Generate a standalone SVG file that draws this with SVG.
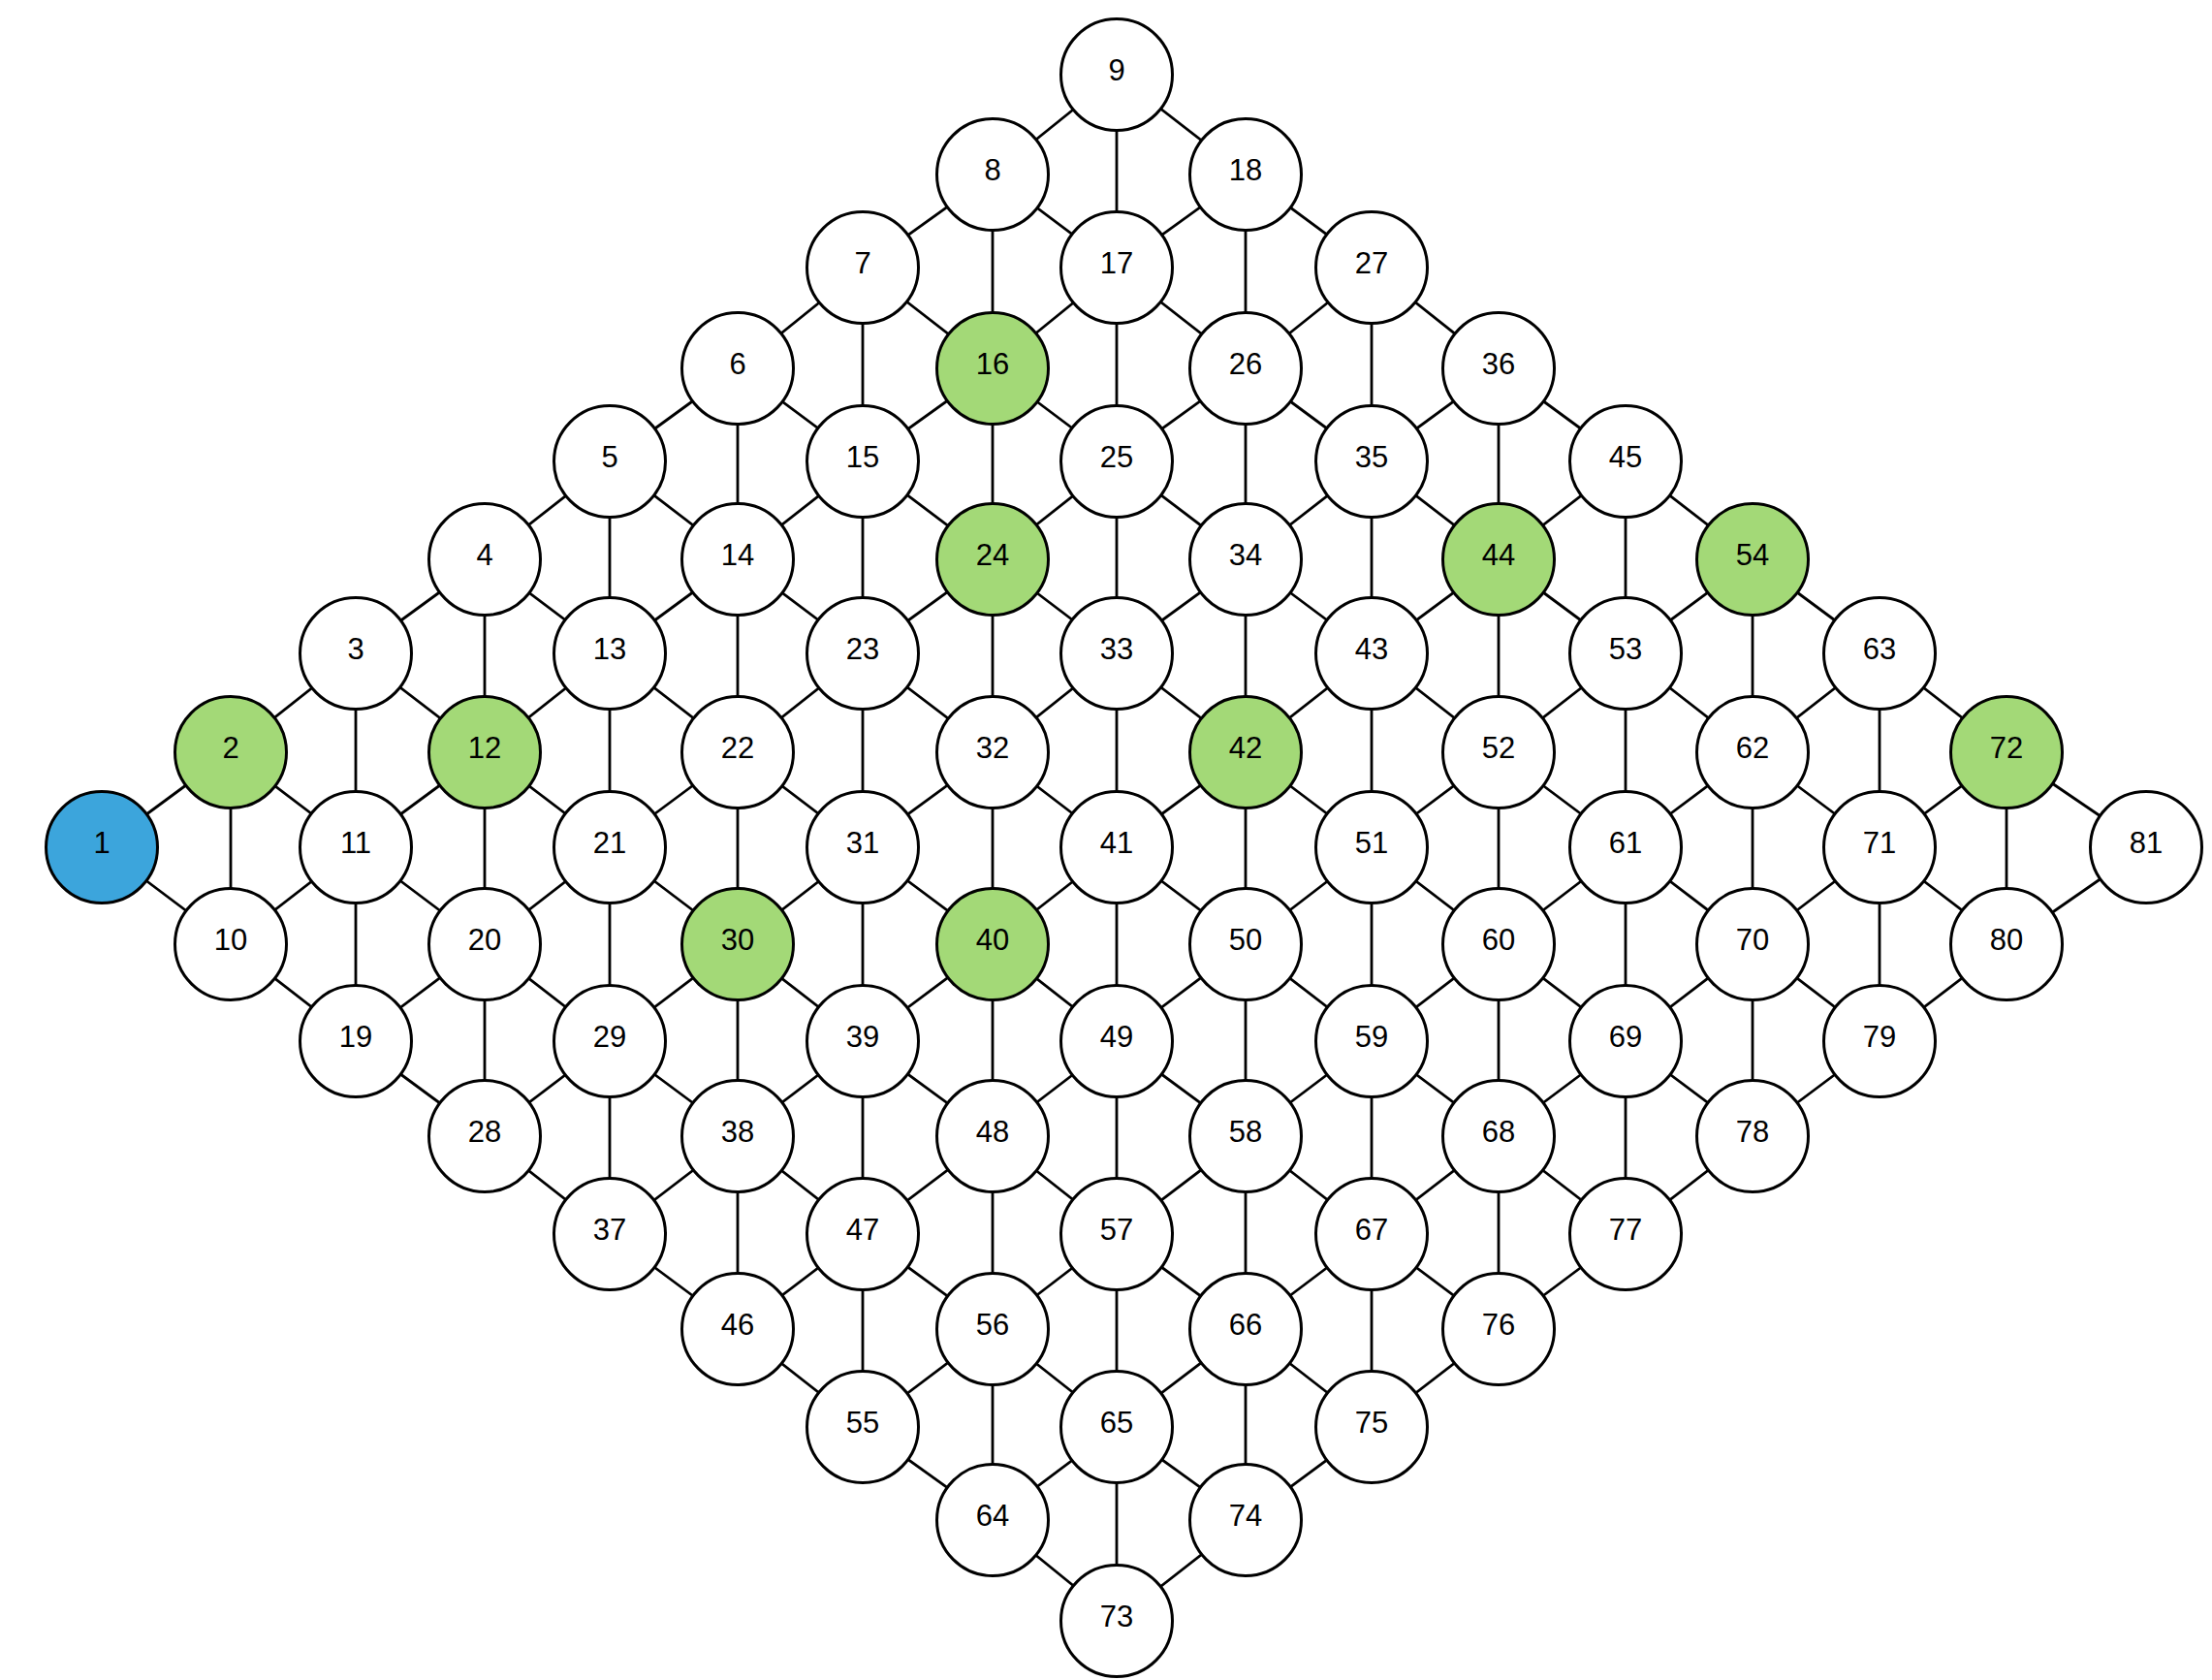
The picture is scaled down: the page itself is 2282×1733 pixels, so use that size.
<svg xmlns="http://www.w3.org/2000/svg" width="2282" height="1733" viewBox="0 0 2282 1733">
<style>
.e{stroke:#000;stroke-width:2.8;fill:none}
.n circle{stroke:#000;stroke-width:3;fill:#fff}
.n.g circle{fill:#A3D977}
.n.b circle{fill:#3CA5DC}
.n text{font-family:"Liberation Sans",Arial,sans-serif;font-size:31px;text-anchor:middle;fill:#000}
</style>
<rect width="2282" height="1733" fill="#fff"/>
<g id="connectors" class="e">
<line x1="105" y1="874" x2="238" y2="776"/><line x1="105" y1="874" x2="238" y2="974"/>
<line x1="238" y1="776" x2="367" y2="674"/><line x1="238" y1="776" x2="367" y2="874"/><line x1="238" y1="776" x2="238" y2="974"/>
<line x1="367" y1="674" x2="500" y2="577"/><line x1="367" y1="674" x2="500" y2="776"/><line x1="367" y1="674" x2="367" y2="874"/>
<line x1="500" y1="577" x2="629" y2="476"/><line x1="500" y1="577" x2="629" y2="674"/><line x1="500" y1="577" x2="500" y2="776"/>
<line x1="629" y1="476" x2="761" y2="380"/><line x1="629" y1="476" x2="761" y2="577"/><line x1="629" y1="476" x2="629" y2="674"/>
<line x1="761" y1="380" x2="890" y2="276"/><line x1="761" y1="380" x2="890" y2="476"/><line x1="761" y1="380" x2="761" y2="577"/>
<line x1="890" y1="276" x2="1024" y2="180"/><line x1="890" y1="276" x2="1024" y2="380"/><line x1="890" y1="276" x2="890" y2="476"/>
<line x1="1024" y1="180" x2="1152" y2="77"/><line x1="1024" y1="180" x2="1152" y2="276"/><line x1="1024" y1="180" x2="1024" y2="380"/>
<line x1="1152" y1="77" x2="1285" y2="180"/><line x1="1152" y1="77" x2="1152" y2="276"/>

<line x1="238" y1="974" x2="367" y2="874"/><line x1="238" y1="974" x2="367" y2="1074"/>
<line x1="367" y1="874" x2="500" y2="776"/><line x1="367" y1="874" x2="500" y2="974"/><line x1="367" y1="874" x2="367" y2="1074"/>
<line x1="500" y1="776" x2="629" y2="674"/><line x1="500" y1="776" x2="629" y2="874"/><line x1="500" y1="776" x2="500" y2="974"/>
<line x1="629" y1="674" x2="761" y2="577"/><line x1="629" y1="674" x2="761" y2="776"/><line x1="629" y1="674" x2="629" y2="874"/>
<line x1="761" y1="577" x2="890" y2="476"/><line x1="761" y1="577" x2="890" y2="674"/><line x1="761" y1="577" x2="761" y2="776"/>
<line x1="890" y1="476" x2="1024" y2="380"/><line x1="890" y1="476" x2="1024" y2="577"/><line x1="890" y1="476" x2="890" y2="674"/>
<line x1="1024" y1="380" x2="1152" y2="276"/><line x1="1024" y1="380" x2="1152" y2="476"/><line x1="1024" y1="380" x2="1024" y2="577"/>
<line x1="1152" y1="276" x2="1285" y2="180"/><line x1="1152" y1="276" x2="1285" y2="380"/><line x1="1152" y1="276" x2="1152" y2="476"/>
<line x1="1285" y1="180" x2="1415" y2="276"/><line x1="1285" y1="180" x2="1285" y2="380"/>

<line x1="367" y1="1074" x2="500" y2="974"/><line x1="367" y1="1074" x2="500" y2="1172"/>
<line x1="500" y1="974" x2="629" y2="874"/><line x1="500" y1="974" x2="629" y2="1074"/><line x1="500" y1="974" x2="500" y2="1172"/>
<line x1="629" y1="874" x2="761" y2="776"/><line x1="629" y1="874" x2="761" y2="974"/><line x1="629" y1="874" x2="629" y2="1074"/>
<line x1="761" y1="776" x2="890" y2="674"/><line x1="761" y1="776" x2="890" y2="874"/><line x1="761" y1="776" x2="761" y2="974"/>
<line x1="890" y1="674" x2="1024" y2="577"/><line x1="890" y1="674" x2="1024" y2="776"/><line x1="890" y1="674" x2="890" y2="874"/>
<line x1="1024" y1="577" x2="1152" y2="476"/><line x1="1024" y1="577" x2="1152" y2="674"/><line x1="1024" y1="577" x2="1024" y2="776"/>
<line x1="1152" y1="476" x2="1285" y2="380"/><line x1="1152" y1="476" x2="1285" y2="577"/><line x1="1152" y1="476" x2="1152" y2="674"/>
<line x1="1285" y1="380" x2="1415" y2="276"/><line x1="1285" y1="380" x2="1415" y2="476"/><line x1="1285" y1="380" x2="1285" y2="577"/>
<line x1="1415" y1="276" x2="1546" y2="380"/><line x1="1415" y1="276" x2="1415" y2="476"/>

<line x1="500" y1="1172" x2="629" y2="1074"/><line x1="500" y1="1172" x2="629" y2="1273"/>
<line x1="629" y1="1074" x2="761" y2="974"/><line x1="629" y1="1074" x2="761" y2="1172"/><line x1="629" y1="1074" x2="629" y2="1273"/>
<line x1="761" y1="974" x2="890" y2="874"/><line x1="761" y1="974" x2="890" y2="1074"/><line x1="761" y1="974" x2="761" y2="1172"/>
<line x1="890" y1="874" x2="1024" y2="776"/><line x1="890" y1="874" x2="1024" y2="974"/><line x1="890" y1="874" x2="890" y2="1074"/>
<line x1="1024" y1="776" x2="1152" y2="674"/><line x1="1024" y1="776" x2="1152" y2="874"/><line x1="1024" y1="776" x2="1024" y2="974"/>
<line x1="1152" y1="674" x2="1285" y2="577"/><line x1="1152" y1="674" x2="1285" y2="776"/><line x1="1152" y1="674" x2="1152" y2="874"/>
<line x1="1285" y1="577" x2="1415" y2="476"/><line x1="1285" y1="577" x2="1415" y2="674"/><line x1="1285" y1="577" x2="1285" y2="776"/>
<line x1="1415" y1="476" x2="1546" y2="380"/><line x1="1415" y1="476" x2="1546" y2="577"/><line x1="1415" y1="476" x2="1415" y2="674"/>
<line x1="1546" y1="380" x2="1677" y2="476"/><line x1="1546" y1="380" x2="1546" y2="577"/>

<line x1="629" y1="1273" x2="761" y2="1172"/><line x1="629" y1="1273" x2="761" y2="1371"/>
<line x1="761" y1="1172" x2="890" y2="1074"/><line x1="761" y1="1172" x2="890" y2="1273"/><line x1="761" y1="1172" x2="761" y2="1371"/>
<line x1="890" y1="1074" x2="1024" y2="974"/><line x1="890" y1="1074" x2="1024" y2="1172"/><line x1="890" y1="1074" x2="890" y2="1273"/>
<line x1="1024" y1="974" x2="1152" y2="874"/><line x1="1024" y1="974" x2="1152" y2="1074"/><line x1="1024" y1="974" x2="1024" y2="1172"/>
<line x1="1152" y1="874" x2="1285" y2="776"/><line x1="1152" y1="874" x2="1285" y2="974"/><line x1="1152" y1="874" x2="1152" y2="1074"/>
<line x1="1285" y1="776" x2="1415" y2="674"/><line x1="1285" y1="776" x2="1415" y2="874"/><line x1="1285" y1="776" x2="1285" y2="974"/>
<line x1="1415" y1="674" x2="1546" y2="577"/><line x1="1415" y1="674" x2="1546" y2="776"/><line x1="1415" y1="674" x2="1415" y2="874"/>
<line x1="1546" y1="577" x2="1677" y2="476"/><line x1="1546" y1="577" x2="1677" y2="674"/><line x1="1546" y1="577" x2="1546" y2="776"/>
<line x1="1677" y1="476" x2="1808" y2="577"/><line x1="1677" y1="476" x2="1677" y2="674"/>

<line x1="761" y1="1371" x2="890" y2="1273"/><line x1="761" y1="1371" x2="890" y2="1472"/>
<line x1="890" y1="1273" x2="1024" y2="1172"/><line x1="890" y1="1273" x2="1024" y2="1371"/><line x1="890" y1="1273" x2="890" y2="1472"/>
<line x1="1024" y1="1172" x2="1152" y2="1074"/><line x1="1024" y1="1172" x2="1152" y2="1273"/><line x1="1024" y1="1172" x2="1024" y2="1371"/>
<line x1="1152" y1="1074" x2="1285" y2="974"/><line x1="1152" y1="1074" x2="1285" y2="1172"/><line x1="1152" y1="1074" x2="1152" y2="1273"/>
<line x1="1285" y1="974" x2="1415" y2="874"/><line x1="1285" y1="974" x2="1415" y2="1074"/><line x1="1285" y1="974" x2="1285" y2="1172"/>
<line x1="1415" y1="874" x2="1546" y2="776"/><line x1="1415" y1="874" x2="1546" y2="974"/><line x1="1415" y1="874" x2="1415" y2="1074"/>
<line x1="1546" y1="776" x2="1677" y2="674"/><line x1="1546" y1="776" x2="1677" y2="874"/><line x1="1546" y1="776" x2="1546" y2="974"/>
<line x1="1677" y1="674" x2="1808" y2="577"/><line x1="1677" y1="674" x2="1808" y2="776"/><line x1="1677" y1="674" x2="1677" y2="874"/>
<line x1="1808" y1="577" x2="1939" y2="674"/><line x1="1808" y1="577" x2="1808" y2="776"/>

<line x1="890" y1="1472" x2="1024" y2="1371"/><line x1="890" y1="1472" x2="1024" y2="1568"/>
<line x1="1024" y1="1371" x2="1152" y2="1273"/><line x1="1024" y1="1371" x2="1152" y2="1472"/><line x1="1024" y1="1371" x2="1024" y2="1568"/>
<line x1="1152" y1="1273" x2="1285" y2="1172"/><line x1="1152" y1="1273" x2="1285" y2="1371"/><line x1="1152" y1="1273" x2="1152" y2="1472"/>
<line x1="1285" y1="1172" x2="1415" y2="1074"/><line x1="1285" y1="1172" x2="1415" y2="1273"/><line x1="1285" y1="1172" x2="1285" y2="1371"/>
<line x1="1415" y1="1074" x2="1546" y2="974"/><line x1="1415" y1="1074" x2="1546" y2="1172"/><line x1="1415" y1="1074" x2="1415" y2="1273"/>
<line x1="1546" y1="974" x2="1677" y2="874"/><line x1="1546" y1="974" x2="1677" y2="1074"/><line x1="1546" y1="974" x2="1546" y2="1172"/>
<line x1="1677" y1="874" x2="1808" y2="776"/><line x1="1677" y1="874" x2="1808" y2="974"/><line x1="1677" y1="874" x2="1677" y2="1074"/>
<line x1="1808" y1="776" x2="1939" y2="674"/><line x1="1808" y1="776" x2="1939" y2="874"/><line x1="1808" y1="776" x2="1808" y2="974"/>
<line x1="1939" y1="674" x2="2070" y2="776"/><line x1="1939" y1="674" x2="1939" y2="874"/>

<line x1="1024" y1="1568" x2="1152" y2="1472"/><line x1="1024" y1="1568" x2="1152" y2="1672"/>
<line x1="1152" y1="1472" x2="1285" y2="1371"/><line x1="1152" y1="1472" x2="1285" y2="1568"/><line x1="1152" y1="1472" x2="1152" y2="1672"/>
<line x1="1285" y1="1371" x2="1415" y2="1273"/><line x1="1285" y1="1371" x2="1415" y2="1472"/><line x1="1285" y1="1371" x2="1285" y2="1568"/>
<line x1="1415" y1="1273" x2="1546" y2="1172"/><line x1="1415" y1="1273" x2="1546" y2="1371"/><line x1="1415" y1="1273" x2="1415" y2="1472"/>
<line x1="1546" y1="1172" x2="1677" y2="1074"/><line x1="1546" y1="1172" x2="1677" y2="1273"/><line x1="1546" y1="1172" x2="1546" y2="1371"/>
<line x1="1677" y1="1074" x2="1808" y2="974"/><line x1="1677" y1="1074" x2="1808" y2="1172"/><line x1="1677" y1="1074" x2="1677" y2="1273"/>
<line x1="1808" y1="974" x2="1939" y2="874"/><line x1="1808" y1="974" x2="1939" y2="1074"/><line x1="1808" y1="974" x2="1808" y2="1172"/>
<line x1="1939" y1="874" x2="2070" y2="776"/><line x1="1939" y1="874" x2="2070" y2="974"/><line x1="1939" y1="874" x2="1939" y2="1074"/>
<line x1="2070" y1="776" x2="2214" y2="874"/><line x1="2070" y1="776" x2="2070" y2="974"/>

<line x1="1152" y1="1672" x2="1285" y2="1568"/>
<line x1="1285" y1="1568" x2="1415" y2="1472"/>
<line x1="1415" y1="1472" x2="1546" y2="1371"/>
<line x1="1546" y1="1371" x2="1677" y2="1273"/>
<line x1="1677" y1="1273" x2="1808" y2="1172"/>
<line x1="1808" y1="1172" x2="1939" y2="1074"/>
<line x1="1939" y1="1074" x2="2070" y2="974"/>
<line x1="2070" y1="974" x2="2214" y2="874"/>
</g>
<g id="n1" class="n b"><circle cx="105" cy="874" r="57.5"/><text x="105" y="880">1</text></g>
<g id="n2" class="n g"><circle cx="238" cy="776" r="57.5"/><text x="238" y="782">2</text></g>
<g id="n3" class="n"><circle cx="367" cy="674" r="57.5"/><text x="367" y="680">3</text></g>
<g id="n4" class="n"><circle cx="500" cy="577" r="57.5"/><text x="500" y="583">4</text></g>
<g id="n5" class="n"><circle cx="629" cy="476" r="57.5"/><text x="629" y="482">5</text></g>
<g id="n6" class="n"><circle cx="761" cy="380" r="57.5"/><text x="761" y="386">6</text></g>
<g id="n7" class="n"><circle cx="890" cy="276" r="57.5"/><text x="890" y="282">7</text></g>
<g id="n8" class="n"><circle cx="1024" cy="180" r="57.5"/><text x="1024" y="186">8</text></g>
<g id="n9" class="n"><circle cx="1152" cy="77" r="57.5"/><text x="1152" y="83">9</text></g>
<g id="n10" class="n"><circle cx="238" cy="974" r="57.5"/><text x="238" y="980">10</text></g>
<g id="n11" class="n"><circle cx="367" cy="874" r="57.5"/><text x="367" y="880">11</text></g>
<g id="n12" class="n g"><circle cx="500" cy="776" r="57.5"/><text x="500" y="782">12</text></g>
<g id="n13" class="n"><circle cx="629" cy="674" r="57.5"/><text x="629" y="680">13</text></g>
<g id="n14" class="n"><circle cx="761" cy="577" r="57.5"/><text x="761" y="583">14</text></g>
<g id="n15" class="n"><circle cx="890" cy="476" r="57.5"/><text x="890" y="482">15</text></g>
<g id="n16" class="n g"><circle cx="1024" cy="380" r="57.5"/><text x="1024" y="386">16</text></g>
<g id="n17" class="n"><circle cx="1152" cy="276" r="57.5"/><text x="1152" y="282">17</text></g>
<g id="n18" class="n"><circle cx="1285" cy="180" r="57.5"/><text x="1285" y="186">18</text></g>
<g id="n19" class="n"><circle cx="367" cy="1074" r="57.5"/><text x="367" y="1080">19</text></g>
<g id="n20" class="n"><circle cx="500" cy="974" r="57.5"/><text x="500" y="980">20</text></g>
<g id="n21" class="n"><circle cx="629" cy="874" r="57.5"/><text x="629" y="880">21</text></g>
<g id="n22" class="n"><circle cx="761" cy="776" r="57.5"/><text x="761" y="782">22</text></g>
<g id="n23" class="n"><circle cx="890" cy="674" r="57.5"/><text x="890" y="680">23</text></g>
<g id="n24" class="n g"><circle cx="1024" cy="577" r="57.5"/><text x="1024" y="583">24</text></g>
<g id="n25" class="n"><circle cx="1152" cy="476" r="57.5"/><text x="1152" y="482">25</text></g>
<g id="n26" class="n"><circle cx="1285" cy="380" r="57.5"/><text x="1285" y="386">26</text></g>
<g id="n27" class="n"><circle cx="1415" cy="276" r="57.5"/><text x="1415" y="282">27</text></g>
<g id="n28" class="n"><circle cx="500" cy="1172" r="57.5"/><text x="500" y="1178">28</text></g>
<g id="n29" class="n"><circle cx="629" cy="1074" r="57.5"/><text x="629" y="1080">29</text></g>
<g id="n30" class="n g"><circle cx="761" cy="974" r="57.5"/><text x="761" y="980">30</text></g>
<g id="n31" class="n"><circle cx="890" cy="874" r="57.5"/><text x="890" y="880">31</text></g>
<g id="n32" class="n"><circle cx="1024" cy="776" r="57.5"/><text x="1024" y="782">32</text></g>
<g id="n33" class="n"><circle cx="1152" cy="674" r="57.5"/><text x="1152" y="680">33</text></g>
<g id="n34" class="n"><circle cx="1285" cy="577" r="57.5"/><text x="1285" y="583">34</text></g>
<g id="n35" class="n"><circle cx="1415" cy="476" r="57.5"/><text x="1415" y="482">35</text></g>
<g id="n36" class="n"><circle cx="1546" cy="380" r="57.5"/><text x="1546" y="386">36</text></g>
<g id="n37" class="n"><circle cx="629" cy="1273" r="57.5"/><text x="629" y="1279">37</text></g>
<g id="n38" class="n"><circle cx="761" cy="1172" r="57.5"/><text x="761" y="1178">38</text></g>
<g id="n39" class="n"><circle cx="890" cy="1074" r="57.5"/><text x="890" y="1080">39</text></g>
<g id="n40" class="n g"><circle cx="1024" cy="974" r="57.5"/><text x="1024" y="980">40</text></g>
<g id="n41" class="n"><circle cx="1152" cy="874" r="57.5"/><text x="1152" y="880">41</text></g>
<g id="n42" class="n g"><circle cx="1285" cy="776" r="57.5"/><text x="1285" y="782">42</text></g>
<g id="n43" class="n"><circle cx="1415" cy="674" r="57.5"/><text x="1415" y="680">43</text></g>
<g id="n44" class="n g"><circle cx="1546" cy="577" r="57.5"/><text x="1546" y="583">44</text></g>
<g id="n45" class="n"><circle cx="1677" cy="476" r="57.5"/><text x="1677" y="482">45</text></g>
<g id="n46" class="n"><circle cx="761" cy="1371" r="57.5"/><text x="761" y="1377">46</text></g>
<g id="n47" class="n"><circle cx="890" cy="1273" r="57.5"/><text x="890" y="1279">47</text></g>
<g id="n48" class="n"><circle cx="1024" cy="1172" r="57.5"/><text x="1024" y="1178">48</text></g>
<g id="n49" class="n"><circle cx="1152" cy="1074" r="57.5"/><text x="1152" y="1080">49</text></g>
<g id="n50" class="n"><circle cx="1285" cy="974" r="57.5"/><text x="1285" y="980">50</text></g>
<g id="n51" class="n"><circle cx="1415" cy="874" r="57.5"/><text x="1415" y="880">51</text></g>
<g id="n52" class="n"><circle cx="1546" cy="776" r="57.5"/><text x="1546" y="782">52</text></g>
<g id="n53" class="n"><circle cx="1677" cy="674" r="57.5"/><text x="1677" y="680">53</text></g>
<g id="n54" class="n g"><circle cx="1808" cy="577" r="57.5"/><text x="1808" y="583">54</text></g>
<g id="n55" class="n"><circle cx="890" cy="1472" r="57.5"/><text x="890" y="1478">55</text></g>
<g id="n56" class="n"><circle cx="1024" cy="1371" r="57.5"/><text x="1024" y="1377">56</text></g>
<g id="n57" class="n"><circle cx="1152" cy="1273" r="57.5"/><text x="1152" y="1279">57</text></g>
<g id="n58" class="n"><circle cx="1285" cy="1172" r="57.5"/><text x="1285" y="1178">58</text></g>
<g id="n59" class="n"><circle cx="1415" cy="1074" r="57.5"/><text x="1415" y="1080">59</text></g>
<g id="n60" class="n"><circle cx="1546" cy="974" r="57.5"/><text x="1546" y="980">60</text></g>
<g id="n61" class="n"><circle cx="1677" cy="874" r="57.5"/><text x="1677" y="880">61</text></g>
<g id="n62" class="n"><circle cx="1808" cy="776" r="57.5"/><text x="1808" y="782">62</text></g>
<g id="n63" class="n"><circle cx="1939" cy="674" r="57.5"/><text x="1939" y="680">63</text></g>
<g id="n64" class="n"><circle cx="1024" cy="1568" r="57.5"/><text x="1024" y="1574">64</text></g>
<g id="n65" class="n"><circle cx="1152" cy="1472" r="57.5"/><text x="1152" y="1478">65</text></g>
<g id="n66" class="n"><circle cx="1285" cy="1371" r="57.5"/><text x="1285" y="1377">66</text></g>
<g id="n67" class="n"><circle cx="1415" cy="1273" r="57.5"/><text x="1415" y="1279">67</text></g>
<g id="n68" class="n"><circle cx="1546" cy="1172" r="57.5"/><text x="1546" y="1178">68</text></g>
<g id="n69" class="n"><circle cx="1677" cy="1074" r="57.5"/><text x="1677" y="1080">69</text></g>
<g id="n70" class="n"><circle cx="1808" cy="974" r="57.5"/><text x="1808" y="980">70</text></g>
<g id="n71" class="n"><circle cx="1939" cy="874" r="57.5"/><text x="1939" y="880">71</text></g>
<g id="n72" class="n g"><circle cx="2070" cy="776" r="57.5"/><text x="2070" y="782">72</text></g>
<g id="n73" class="n"><circle cx="1152" cy="1672" r="57.5"/><text x="1152" y="1678">73</text></g>
<g id="n74" class="n"><circle cx="1285" cy="1568" r="57.5"/><text x="1285" y="1574">74</text></g>
<g id="n75" class="n"><circle cx="1415" cy="1472" r="57.5"/><text x="1415" y="1478">75</text></g>
<g id="n76" class="n"><circle cx="1546" cy="1371" r="57.5"/><text x="1546" y="1377">76</text></g>
<g id="n77" class="n"><circle cx="1677" cy="1273" r="57.5"/><text x="1677" y="1279">77</text></g>
<g id="n78" class="n"><circle cx="1808" cy="1172" r="57.5"/><text x="1808" y="1178">78</text></g>
<g id="n79" class="n"><circle cx="1939" cy="1074" r="57.5"/><text x="1939" y="1080">79</text></g>
<g id="n80" class="n"><circle cx="2070" cy="974" r="57.5"/><text x="2070" y="980">80</text></g>
<g id="n81" class="n"><circle cx="2214" cy="874" r="57.5"/><text x="2214" y="880">81</text></g>
</svg>
